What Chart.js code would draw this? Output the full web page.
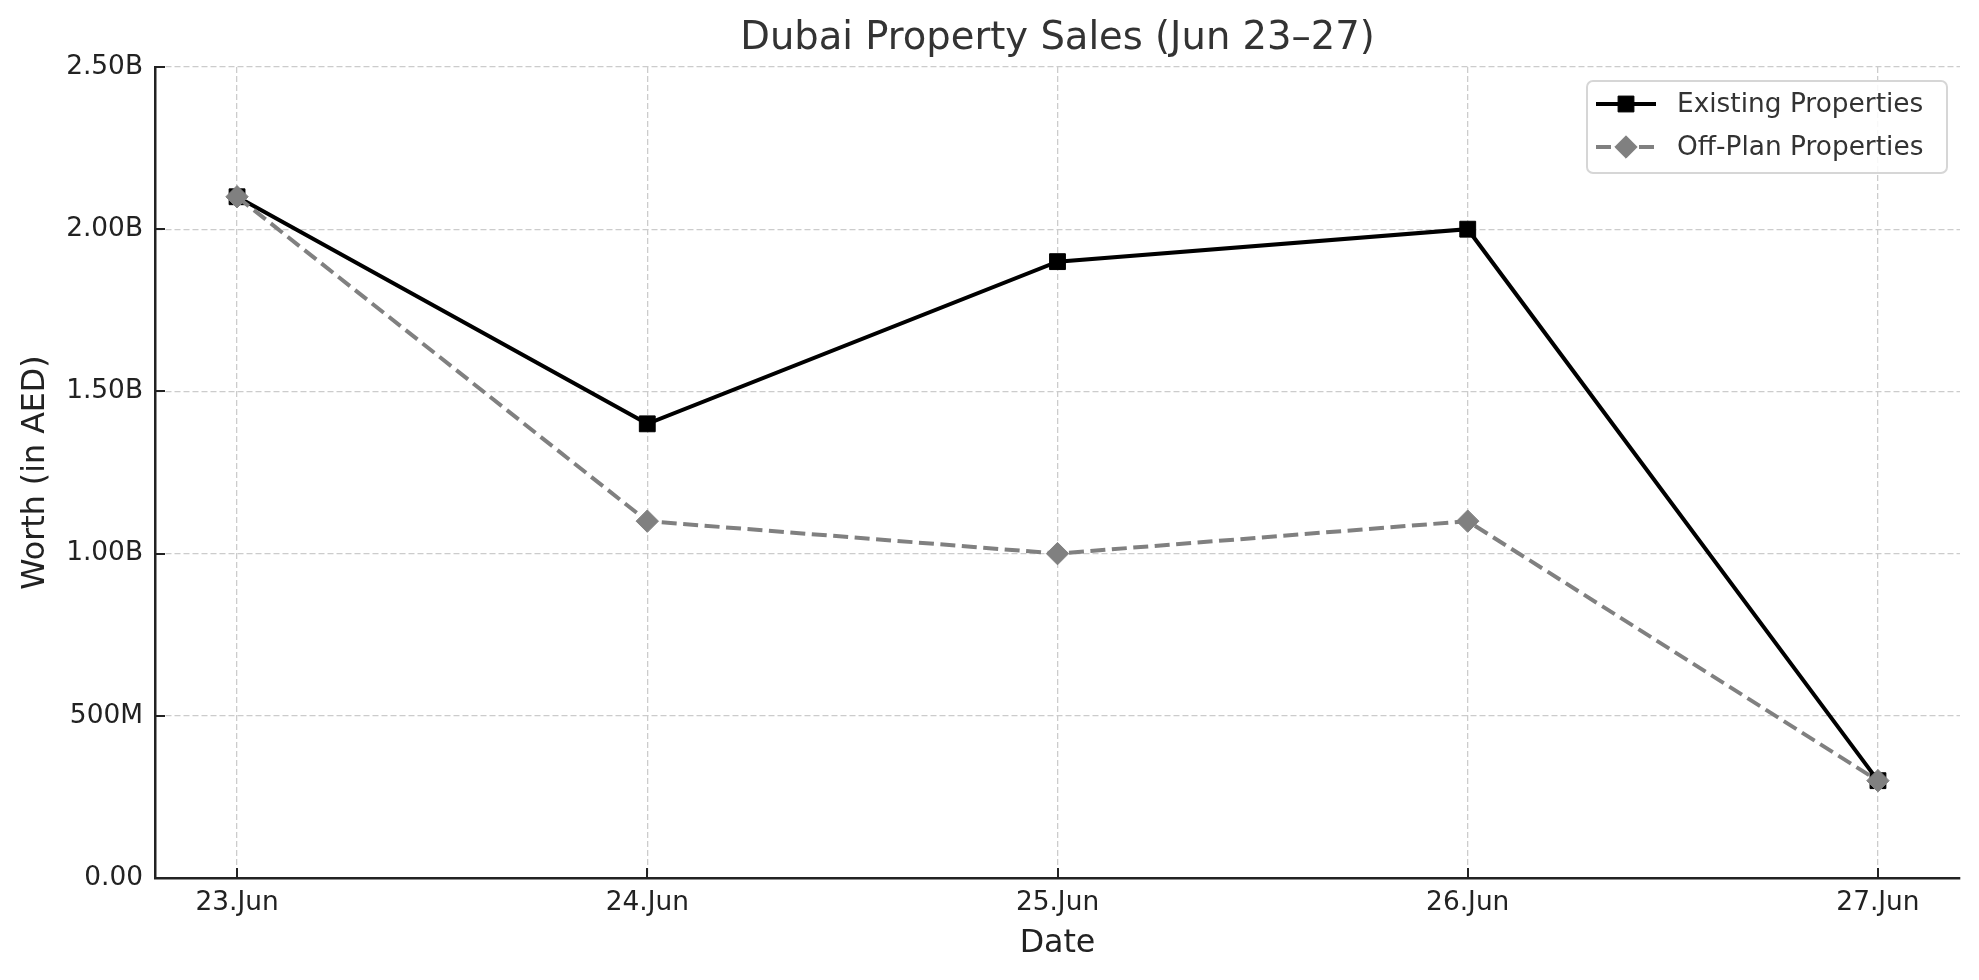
<!DOCTYPE html>
<html>
<head>
<meta charset="utf-8">
<script src="https://cdn.jsdelivr.net/npm/chart.js@4.4.1/dist/chart.umd.min.js"></script>
<style>
  html, body { margin: 0; padding: 0; background: #fff; }
  #wrap { width: 1979px; height: 980px; position: relative; }
</style>
</head>
<body>
<div id="wrap"><canvas id="c" width="1979" height="980"></canvas></div>
<script>
const categories = ['23.Jun', '24.Jun', '25.Jun', '26.Jun', '27.Jun'];
const existingValues = [2.1e9, 1.4e9, 1.9e9, 2.0e9, 0.3e9];
const offPlanValues = [2.1e9, 1.1e9, 1.0e9, 1.1e9, 0.3e9];
const yTickValues = [0, 0.5e9, 1.0e9, 1.5e9, 2.0e9, 2.5e9];
const yTickLabels = ['0.00', '500M', '1.00B', '1.50B', '2.00B', '2.50B'];
const seriesNames = ['Existing Properties', 'Off-Plan Properties'];
const chartTitle = 'Dubai Property Sales (Jun 23\u201327)';
const xTitle = 'Date';
const yTitle = 'Worth (in AED)';

const FONT = "'DejaVu Sans', sans-serif";

const toXY = vals => vals.map((v, i) => ({ x: i, y: v }));

const plotTitle = {
  id: 'plotTitle',
  afterDraw(chart) {
    const ctx = chart.ctx;
    const area = chart.chartArea;
    ctx.save();
    ctx.fillStyle = '#333333';
    ctx.font = '38.5px ' + FONT;
    ctx.textAlign = 'center';
    ctx.textBaseline = 'middle';
    ctx.fillText(chartTitle, (area.left + area.right) / 2, 38.5);
    ctx.restore();
  }
};

const inwardTicks = {
  id: 'inwardTicks',
  afterDatasetsDraw(chart) {
    const ctx = chart.ctx;
    const xs = chart.scales.x, ys = chart.scales.y;
    const area = chart.chartArea;
    ctx.save();
    ctx.strokeStyle = '#222';
    ctx.lineWidth = 2;
    ys.ticks.forEach(t => {
      const y = Math.round(ys.getPixelForValue(t.value));
      ctx.beginPath(); ctx.moveTo(area.left, y); ctx.lineTo(area.left + 10, y); ctx.stroke();
    });
    xs.ticks.forEach(t => {
      const x = Math.round(xs.getPixelForValue(t.value));
      ctx.beginPath(); ctx.moveTo(x, area.bottom); ctx.lineTo(x, area.bottom - 10); ctx.stroke();
    });
    ctx.restore();
  }
};

const customLegend = {
  id: 'customLegend',
  afterDraw(chart) {
    const ctx = chart.ctx;
    const area = chart.chartArea;
    const boxRight = area.right - 13, boxTop = area.top + 14;
    const boxW = 360, boxH = 92;
    const boxLeft = boxRight - boxW;
    ctx.save();
    const r = 6;
    ctx.beginPath();
    ctx.moveTo(boxLeft + r, boxTop);
    ctx.arcTo(boxRight, boxTop, boxRight, boxTop + boxH, r);
    ctx.arcTo(boxRight, boxTop + boxH, boxLeft, boxTop + boxH, r);
    ctx.arcTo(boxLeft, boxTop + boxH, boxLeft, boxTop, r);
    ctx.arcTo(boxLeft, boxTop, boxRight, boxTop, r);
    ctx.closePath();
    ctx.fillStyle = 'rgba(255,255,255,0.85)';
    ctx.fill();
    ctx.strokeStyle = '#d6d6d6';
    ctx.lineWidth = 2;
    ctx.stroke();
    chart.data.datasets.forEach((ds, i) => {
      const cy = boxTop + 23 + i * 43;
      const x0 = boxLeft + 9, x1 = boxLeft + 69;
      const cx = (x0 + x1) / 2;
      ctx.strokeStyle = ds.borderColor;
      ctx.lineWidth = ds.borderWidth;
      ctx.setLineDash(ds.borderDash || []);
      ctx.beginPath(); ctx.moveTo(x0, cy); ctx.lineTo(x1, cy); ctx.stroke();
      ctx.setLineDash([]);
      ctx.fillStyle = ds.pointBackgroundColor;
      ctx.strokeStyle = ds.pointBorderColor;
      ctx.lineWidth = 1;
      ctx.beginPath();
      if (ds.pointStyle === 'rect') {
        const s = Math.SQRT1_2 * ds.pointRadius;
        ctx.rect(cx - s, cy - s, 2 * s, 2 * s);
      } else {
        const rr = ds.pointRadius;
        ctx.moveTo(cx - rr, cy); ctx.lineTo(cx, cy - rr); ctx.lineTo(cx + rr, cy); ctx.lineTo(cx, cy + rr); ctx.closePath();
      }
      ctx.fill(); ctx.stroke();
      ctx.fillStyle = '#333';
      ctx.font = '26.4px ' + FONT;
      ctx.textBaseline = 'middle';
      ctx.textAlign = 'left';
      ctx.fillText(ds.label, boxLeft + 90, cy + 1);
    });
    ctx.restore();
  }
};

const gridCommon = {
  color: '#cccccc',
  lineWidth: 1.3,
  drawTicks: false,
  tickLength: 0
};

new Chart(document.getElementById('c'), {
  type: 'line',
  data: {
    datasets: [
      {
        label: seriesNames[0],
        data: toXY(existingValues),
        order: 2,
        borderColor: '#000000',
        backgroundColor: '#000000',
        borderWidth: 4,
        pointStyle: 'rect',
        pointRadius: 11.2,
        pointBackgroundColor: '#000000',
        pointBorderColor: '#000000',
        pointBorderWidth: 1,
        fill: false,
        tension: 0
      },
      {
        label: seriesNames[1],
        data: toXY(offPlanValues),
        order: 1,
        borderColor: '#808080',
        backgroundColor: '#808080',
        borderWidth: 4,
        borderDash: [15, 6.5],
        pointStyle: 'rectRot',
        pointRadius: 11.2,
        pointBackgroundColor: '#808080',
        pointBorderColor: '#808080',
        pointBorderWidth: 1,
        fill: false,
        tension: 0
      }
    ]
  },
  options: {
    responsive: false,
    animation: false,
    devicePixelRatio: 1,
    layout: { padding: { left: 0, right: 19, top: 67, bottom: 0 } },
    plugins: {
      legend: { display: false },
      tooltip: { enabled: false },
      title: { display: false }
    },
    scales: {
      x: {
        type: 'linear',
        min: -0.2,
        max: 4.2,
        afterBuildTicks: s => { s.ticks = categories.map((_, i) => ({ value: i })); },
        afterFit: s => { s.height = 102; },
        ticks: {
          autoSkip: false,
          maxRotation: 0,
          padding: 9,
          color: '#222222',
          font: { family: FONT, size: 26.4 },
          callback: v => categories[v]
        },
        grid: gridCommon,
        border: { display: true, color: '#222222', width: 2.5, dash: [6, 3] },
        title: {
          display: true,
          text: xTitle,
          color: '#222222',
          font: { family: FONT, size: 31.7 },
          padding: { top: 0, bottom: 17 }
        }
      },
      y: {
        type: 'linear',
        min: 0,
        max: 2.5e9,
        afterBuildTicks: s => { s.ticks = yTickValues.map(v => ({ value: v })); },
        afterFit: s => { s.width = 155; },
        ticks: {
          padding: 12,
          color: '#222222',
          font: { family: FONT, size: 26.4 },
          callback: v => yTickLabels[yTickValues.indexOf(v)]
        },
        grid: gridCommon,
        border: { display: true, color: '#222222', width: 2.5, dash: [6, 3] },
        title: {
          display: true,
          text: yTitle,
          color: '#222222',
          font: { family: FONT, size: 31.7 },
          padding: { top: 17, bottom: 0 }
        }
      }
    }
  },
  plugins: [inwardTicks, customLegend, plotTitle]
});
</script>
</body>
</html>
